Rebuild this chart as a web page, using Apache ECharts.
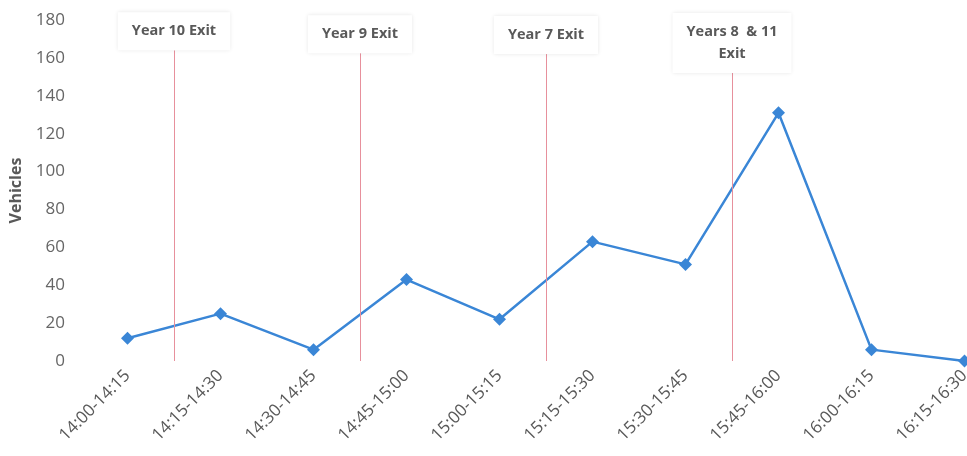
<!DOCTYPE html>
<html><head><meta charset="utf-8">
<script src="https://cdn.jsdelivr.net/npm/echarts@6/dist/echarts.min.js"></script>
<style>html,body{margin:0;padding:0;background:#fff}#c{width:967px;height:456px}</style>
</head><body><div id="c"></div>
<script>
var categories = ['14:00-14:15','14:15-14:30','14:30-14:45','14:45-15:00','15:00-15:15','15:15-15:30','15:30-15:45','15:45-16:00','16:00-16:15','16:15-16:30'];
var vehicles = [12, 25, 6, 43, 22, 63, 51, 131, 6, 0];
var exitNames = ['Year 10 Exit', 'Year 9 Exit', 'Year 7 Exit', 'Years 8  & 11\nExit'];
var exitBoundaries = [1, 3, 5, 7];   // boundary after category index
var exitLineTop = [164, 162.5, 162, 152];
var yTicks = {min: 0, max: 180, interval: 20};

var chart = echarts.init(document.getElementById('c'));
var font = 'Open Sans';
var markData = exitBoundaries.map(function (b, i) {
  return [{coord: [b, 0], name: exitNames[i]}, {coord: [b, exitLineTop[i]]}];
});
chart.setOption({
  animation: false,
  grid: {left: 81, width: 930, top: 20, bottom: 95, containLabel: false, outerBoundsMode: 'none'},
  xAxis: [{
    type: 'category', data: categories, boundaryGap: true,
    axisLine: {show: false}, axisTick: {show: false},
    axisLabel: {rotate: 45, color: '#595959', fontSize: 17, fontFamily: font, margin: 12, interval: 0}
  }, {
    type: 'value', min: 0, max: categories.length, show: false
  }],
  yAxis: [{
    type: 'value', min: yTicks.min, max: yTicks.max, interval: yTicks.interval,
    name: 'Vehicles', nameLocation: 'middle', nameGap: 57, nameRotate: 90,
    nameTextStyle: {color: '#595959', fontSize: 16, fontWeight: 'bold', fontFamily: font},
    axisLine: {show: false}, axisTick: {show: false},
    splitLine: {show: false},
    axisLabel: {color: '#666666', fontSize: 17, fontFamily: font, margin: 16}
  }],
  series: [{
    type: 'line', data: vehicles, xAxisIndex: 0,
    symbol: 'diamond', symbolSize: 13,
    lineStyle: {color: '#3a86d6', width: 2.5},
    itemStyle: {color: '#3a86d6'}
  }, {
    type: 'line', data: [], xAxisIndex: 1,
    markLine: {
      silent: true, symbol: ['none', 'none'],
      lineStyle: {color: '#e7909c', width: 1, type: 'solid'},
      label: {
        show: true, position: 'end', formatter: '{b}',
        color: '#595959', fontSize: 14.5, fontWeight: 'bold', fontFamily: font,
        backgroundColor: '#fff', padding: [8, 14], distance: 0, lineHeight: 22,
        shadowColor: 'rgba(0,0,0,0.10)', shadowBlur: 4
      },
      data: markData
    }
  }]
});
</script></body></html>
